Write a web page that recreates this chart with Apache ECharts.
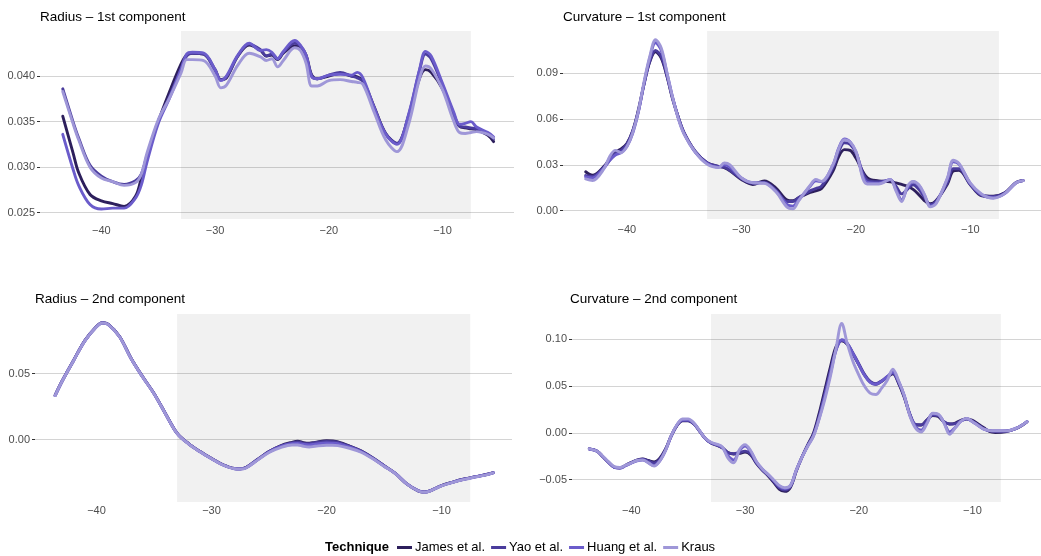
<!DOCTYPE html>
<html>
<head>
<meta charset="utf-8">
<title>Principal components by technique</title>
<script src="https://cdn.jsdelivr.net/npm/echarts/dist/echarts.min.js"></script>
<style>
  html, body { margin: 0; padding: 0; background: #ffffff; }
  #chart { width: 1041px; height: 556px; }
</style>
</head>
<body>
<div id="chart"></div>
<script>
// ---- techniques ----
const techniques = ['James et al.', 'Yao et al.', 'Huang et al.', 'Kraus'];

// ---- Radius – 1st component ----
const radius1X = [-43.4, -42.5, -42, -41, -40, -39, -38, -37, -36.5, -36, -35, -34, -33, -32.5, -32, -31, -30, -29.5, -29, -28, -27, -26, -25.5, -25, -24.5, -24, -23, -22.5, -22, -21.5, -21, -20, -19, -18, -17.5, -17, -16, -15, -14, -13, -12, -11.5, -11, -10, -9, -8.5, -8, -7.5, -7, -6, -5.5];
const radius1James = [0.0356, 0.0316, 0.0294, 0.0270, 0.0263, 0.0260, 0.0257, 0.0268, 0.0288, 0.0312, 0.0350, 0.0383, 0.0413, 0.0423, 0.0425, 0.0424, 0.0407, 0.0396, 0.0398, 0.0422, 0.0434, 0.0428, 0.0422, 0.0423, 0.0418, 0.0425, 0.0433, 0.0432, 0.0423, 0.0401, 0.0397, 0.0400, 0.0403, 0.0400, 0.0399, 0.0395, 0.0366, 0.0337, 0.0326, 0.0355, 0.0398, 0.0407, 0.0404, 0.0386, 0.0356, 0.0345, 0.0343, 0.0342, 0.0341, 0.0335, 0.0328];
const radius1Yao = [0.0386, 0.0350, 0.0332, 0.0302, 0.0290, 0.0284, 0.0281, 0.0285, 0.0292, 0.0312, 0.0350, 0.0378, 0.0408, 0.0422, 0.0425, 0.0424, 0.0406, 0.0396, 0.0399, 0.0422, 0.0435, 0.0429, 0.0422, 0.0424, 0.0419, 0.0426, 0.0436, 0.0433, 0.0422, 0.0400, 0.0397, 0.0401, 0.0404, 0.0400, 0.0398, 0.0394, 0.0365, 0.0337, 0.0326, 0.0356, 0.0407, 0.0424, 0.0419, 0.0390, 0.0358, 0.0345, 0.0344, 0.0343, 0.0342, 0.0337, 0.0331];
const radius1Huang = [0.0336, 0.0298, 0.0280, 0.0259, 0.0254, 0.0255, 0.0255, 0.0266, 0.0280, 0.0305, 0.0348, 0.0376, 0.0407, 0.0424, 0.0426, 0.0425, 0.0407, 0.0395, 0.0400, 0.0423, 0.0436, 0.0428, 0.0429, 0.0426, 0.0419, 0.0427, 0.0439, 0.0434, 0.0423, 0.0399, 0.0397, 0.0401, 0.0402, 0.0401, 0.0404, 0.0398, 0.0365, 0.0336, 0.0325, 0.0357, 0.0408, 0.0427, 0.0422, 0.0392, 0.0360, 0.0347, 0.0348, 0.0350, 0.0344, 0.0338, 0.0333];
const radius1Kraus = [0.0383, 0.0348, 0.0330, 0.0300, 0.0288, 0.0284, 0.0280, 0.0283, 0.0292, 0.0315, 0.0352, 0.0376, 0.0403, 0.0418, 0.0418, 0.0417, 0.0400, 0.0387, 0.0390, 0.0412, 0.0425, 0.0421, 0.0417, 0.0419, 0.0410, 0.0417, 0.0431, 0.0428, 0.0414, 0.0389, 0.0389, 0.0395, 0.0396, 0.0394, 0.0393, 0.0391, 0.0360, 0.0330, 0.0317, 0.0346, 0.0398, 0.0411, 0.0408, 0.0385, 0.0350, 0.0338, 0.0337, 0.0338, 0.0339, 0.0336, 0.0332];
const radius1YTicks = [0.025, 0.030, 0.035, 0.040];

// ---- Curvature – 1st component ----
const curv1X = [-43.6, -43, -42, -41.5, -41, -40.5, -40, -39.5, -39, -38.5, -38, -37.5, -37, -36.5, -36, -35.5, -35, -34, -33, -32, -31.5, -31, -30, -29, -28, -27, -26, -25.5, -25, -24, -23.5, -23, -22, -21.5, -21, -20.5, -20, -19, -18, -17, -16.5, -16, -15.5, -15, -14.5, -14, -13.5, -13, -12, -11.5, -11, -10, -9, -8, -7, -6, -5.4];
const curv1James = [0.0255, 0.0232, 0.0290, 0.0340, 0.0385, 0.0405, 0.0440, 0.0520, 0.0660, 0.0830, 0.0975, 0.1040, 0.1000, 0.0880, 0.0730, 0.0610, 0.0510, 0.0385, 0.0315, 0.0290, 0.0282, 0.0262, 0.0205, 0.0172, 0.0195, 0.0150, 0.0070, 0.0065, 0.0085, 0.0120, 0.0130, 0.0145, 0.0260, 0.0355, 0.0400, 0.0395, 0.0345, 0.0215, 0.0195, 0.0190, 0.0182, 0.0172, 0.0160, 0.0140, 0.0105, 0.0065, 0.0045, 0.0065, 0.0175, 0.0260, 0.0265, 0.0170, 0.0098, 0.0095, 0.0118, 0.0185, 0.0198];
const curv1Yao = [0.0230, 0.0225, 0.0285, 0.0332, 0.0375, 0.0395, 0.0435, 0.0520, 0.0650, 0.0830, 0.0980, 0.1050, 0.1010, 0.0885, 0.0735, 0.0610, 0.0510, 0.0385, 0.0315, 0.0290, 0.0285, 0.0265, 0.0210, 0.0180, 0.0185, 0.0135, 0.0060, 0.0060, 0.0085, 0.0130, 0.0145, 0.0160, 0.0280, 0.0385, 0.0445, 0.0435, 0.0380, 0.0200, 0.0190, 0.0200, 0.0160, 0.0110, 0.0140, 0.0170, 0.0140, 0.0085, 0.0040, 0.0060, 0.0185, 0.0275, 0.0275, 0.0172, 0.0100, 0.0092, 0.0115, 0.0185, 0.0198];
const curv1Huang = [0.0222, 0.0215, 0.0280, 0.0330, 0.0365, 0.0380, 0.0420, 0.0505, 0.0645, 0.0835, 0.1000, 0.1100, 0.1050, 0.0900, 0.0740, 0.0605, 0.0505, 0.0380, 0.0310, 0.0285, 0.0300, 0.0285, 0.0215, 0.0183, 0.0182, 0.0130, 0.0040, 0.0030, 0.0070, 0.0160, 0.0195, 0.0190, 0.0300, 0.0410, 0.0470, 0.0450, 0.0385, 0.0185, 0.0180, 0.0205, 0.0140, 0.0070, 0.0150, 0.0190, 0.0165, 0.0100, 0.0030, 0.0050, 0.0210, 0.0320, 0.0305, 0.0178, 0.0105, 0.0085, 0.0112, 0.0183, 0.0197];
const curv1Kraus = [0.0208, 0.0198, 0.0275, 0.0355, 0.0395, 0.0380, 0.0420, 0.0510, 0.0650, 0.0845, 0.1010, 0.1120, 0.1065, 0.0905, 0.0740, 0.0600, 0.0500, 0.0380, 0.0305, 0.0282, 0.0312, 0.0300, 0.0215, 0.0183, 0.0180, 0.0125, 0.0022, 0.0012, 0.0065, 0.0165, 0.0205, 0.0192, 0.0300, 0.0405, 0.0465, 0.0450, 0.0390, 0.0175, 0.0175, 0.0205, 0.0130, 0.0060, 0.0160, 0.0192, 0.0170, 0.0105, 0.0025, 0.0045, 0.0215, 0.0330, 0.0310, 0.0180, 0.0108, 0.0082, 0.0112, 0.0183, 0.0197];
const curv1YTicks = [0.00, 0.03, 0.06, 0.09];

// ---- Radius – 2nd component ----
const radius2X = [-43.6, -43, -42, -41, -40, -39.5, -39, -38, -37, -36, -35, -34, -33, -32, -31, -30, -29, -28, -27.5, -27, -26, -25, -24, -23, -22.5, -22, -21.5, -21, -20, -19.5, -19, -18, -17, -16, -15, -14, -13, -12, -11.5, -11, -10, -9, -8, -7, -6, -5.5];
const radius2James = [0.0336, 0.0443, 0.0600, 0.0752, 0.0857, 0.0886, 0.0875, 0.0782, 0.0617, 0.0478, 0.0350, 0.0197, 0.0050, -0.0030, -0.0090, -0.0142, -0.0190, -0.0218, -0.0220, -0.0211, -0.0150, -0.0090, -0.0046, -0.0020, -0.0012, -0.0022, -0.0026, -0.0020, -0.0008, -0.0010, -0.0017, -0.0048, -0.0085, -0.0137, -0.0197, -0.0257, -0.0337, -0.0390, -0.0397, -0.0388, -0.0348, -0.0321, -0.0298, -0.0280, -0.0262, -0.0250];
const radius2Yao = [0.0336, 0.0443, 0.0600, 0.0752, 0.0857, 0.0886, 0.0875, 0.0782, 0.0617, 0.0478, 0.0350, 0.0197, 0.0050, -0.0030, -0.0090, -0.0142, -0.0190, -0.0218, -0.0220, -0.0211, -0.0150, -0.0090, -0.0048, -0.0024, -0.0018, -0.0028, -0.0030, -0.0023, -0.0013, -0.0015, -0.0020, -0.0050, -0.0086, -0.0137, -0.0197, -0.0255, -0.0335, -0.0387, -0.0396, -0.0387, -0.0348, -0.0321, -0.0298, -0.0280, -0.0262, -0.0250];
const radius2Huang = [0.0334, 0.0441, 0.0598, 0.0750, 0.0855, 0.0884, 0.0873, 0.0780, 0.0615, 0.0476, 0.0348, 0.0195, 0.0048, -0.0032, -0.0092, -0.0144, -0.0192, -0.0220, -0.0222, -0.0213, -0.0153, -0.0093, -0.0052, -0.0030, -0.0028, -0.0036, -0.0040, -0.0034, -0.0025, -0.0026, -0.0030, -0.0056, -0.0090, -0.0140, -0.0199, -0.0257, -0.0336, -0.0388, -0.0397, -0.0388, -0.0349, -0.0322, -0.0299, -0.0281, -0.0263, -0.0251];
const radius2Kraus = [0.0334, 0.0441, 0.0598, 0.0750, 0.0855, 0.0884, 0.0873, 0.0780, 0.0615, 0.0476, 0.0348, 0.0195, 0.0048, -0.0032, -0.0092, -0.0144, -0.0192, -0.0220, -0.0222, -0.0214, -0.0155, -0.0097, -0.0060, -0.0040, -0.0040, -0.0050, -0.0055, -0.0050, -0.0042, -0.0042, -0.0045, -0.0065, -0.0095, -0.0143, -0.0201, -0.0258, -0.0337, -0.0389, -0.0398, -0.0389, -0.0350, -0.0323, -0.0300, -0.0282, -0.0264, -0.0252];
const radius2YTicks = [0.00, 0.05];

// ---- Curvature – 2nd component ----
const curv2X = [-43.7, -43, -42.5, -42, -41.5, -41, -40.5, -40, -39.5, -39, -38.5, -38, -37.5, -37, -36.5, -36, -35.5, -35, -34.5, -34, -33.5, -33, -32.5, -32, -31.5, -31, -30.5, -30, -29.5, -29, -28.5, -28, -27.5, -27, -26.5, -26, -25.5, -25, -24.5, -24, -23.5, -23, -22.5, -22, -21.5, -21, -20.5, -20, -19.5, -19, -18.5, -18, -17.5, -17, -16.5, -16, -15.5, -15, -14.5, -14, -13.5, -13, -12.5, -12, -11.5, -11, -10.5, -10, -9.5, -9, -8.5, -8, -7, -6, -5.2];
const curv2James = [-0.0170, -0.0195, -0.0255, -0.0315, -0.0365, -0.0372, -0.0345, -0.0315, -0.0290, -0.0278, -0.0295, -0.0310, -0.0270, -0.0175, -0.0035, 0.0075, 0.0128, 0.0128, 0.0095, 0.0020, -0.0060, -0.0108, -0.0130, -0.0160, -0.0210, -0.0225, -0.0218, -0.0205, -0.0235, -0.0325, -0.0395, -0.0455, -0.0525, -0.0600, -0.0625, -0.0580, -0.0410, -0.0260, -0.0130, -0.0010, 0.0200, 0.0450, 0.0700, 0.0920, 0.0985, 0.0945, 0.0840, 0.0730, 0.0620, 0.0545, 0.0520, 0.0550, 0.0595, 0.0630, 0.0530, 0.0380, 0.0195, 0.0085, 0.0085, 0.0140, 0.0185, 0.0175, 0.0115, 0.0095, 0.0105, 0.0135, 0.0150, 0.0135, 0.0095, 0.0055, 0.0015, 0.0005, 0.0015, 0.0055, 0.0118];
const curv2Yao = [-0.0172, -0.0195, -0.0255, -0.0315, -0.0368, -0.0375, -0.0348, -0.0318, -0.0292, -0.0280, -0.0300, -0.0320, -0.0280, -0.0180, -0.0035, 0.0078, 0.0132, 0.0132, 0.0098, 0.0020, -0.0060, -0.0105, -0.0128, -0.0158, -0.0212, -0.0222, -0.0210, -0.0195, -0.0225, -0.0320, -0.0390, -0.0448, -0.0512, -0.0585, -0.0610, -0.0570, -0.0405, -0.0260, -0.0135, -0.0025, 0.0170, 0.0410, 0.0660, 0.0890, 0.0990, 0.0950, 0.0850, 0.0740, 0.0625, 0.0550, 0.0525, 0.0555, 0.0600, 0.0640, 0.0540, 0.0390, 0.0200, 0.0090, 0.0085, 0.0135, 0.0190, 0.0185, 0.0120, 0.0095, 0.0100, 0.0130, 0.0148, 0.0125, 0.0085, 0.0045, 0.0022, 0.0018, 0.0020, 0.0057, 0.0120];
const curv2Huang = [-0.0172, -0.0197, -0.0255, -0.0315, -0.0368, -0.0375, -0.0350, -0.0322, -0.0298, -0.0290, -0.0318, -0.0350, -0.0300, -0.0190, -0.0035, 0.0082, 0.0140, 0.0140, 0.0102, 0.0022, -0.0060, -0.0105, -0.0125, -0.0155, -0.0245, -0.0290, -0.0190, -0.0140, -0.0200, -0.0310, -0.0385, -0.0442, -0.0505, -0.0570, -0.0595, -0.0565, -0.0400, -0.0262, -0.0140, -0.0035, 0.0150, 0.0380, 0.0630, 0.0880, 0.0995, 0.0955, 0.0845, 0.0730, 0.0615, 0.0540, 0.0520, 0.0550, 0.0600, 0.0650, 0.0550, 0.0400, 0.0190, 0.0065, 0.0030, 0.0110, 0.0205, 0.0195, 0.0110, 0.0010, 0.0060, 0.0125, 0.0152, 0.0120, 0.0080, 0.0040, 0.0025, 0.0022, 0.0022, 0.0058, 0.0121];
const curv2Kraus = [-0.0170, -0.0195, -0.0250, -0.0310, -0.0360, -0.0370, -0.0345, -0.0320, -0.0295, -0.0288, -0.0320, -0.0355, -0.0300, -0.0190, -0.0030, 0.0085, 0.0148, 0.0150, 0.0105, 0.0025, -0.0058, -0.0100, -0.0120, -0.0150, -0.0270, -0.0320, -0.0180, -0.0125, -0.0190, -0.0305, -0.0382, -0.0440, -0.0500, -0.0560, -0.0585, -0.0560, -0.0400, -0.0262, -0.0145, -0.0040, 0.0140, 0.0350, 0.0600, 0.0900, 0.1170, 0.0950, 0.0760, 0.0620, 0.0500, 0.0425, 0.0410, 0.0475, 0.0560, 0.0680, 0.0560, 0.0400, 0.0180, 0.0050, 0.0010, 0.0100, 0.0210, 0.0200, 0.0105, -0.0015, 0.0055, 0.0125, 0.0155, 0.0120, 0.0078, 0.0040, 0.0025, 0.0022, 0.0022, 0.0058, 0.0121];
const curv2YTicks = [-0.05, 0.00, 0.05, 0.10];

// ---- shared x ticks and highlighted window ----
const xTicks = [-40, -30, -20, -10];
const windowStart = -33;
const windowEnd = -7.5;

const lineColors = ['#2d1f5c', '#4a3c9c', '#6b5ccb', '#9f97d8'];

const panels = [
  { title: 'Radius – 1st component', xs: radius1X, ys: [radius1James, radius1Yao, radius1Huang, radius1Kraus],
    yTicks: radius1YTicks, digits: 3, grid: { left: 40, top: 31, width: 474, height: 188 },
    xMin: -45.4, xMax: -3.71, yMin: 0.02431, yMax: 0.04494, titleLeft: 40, titleTop: 10, xLabelMargin: 6 },
  { title: 'Curvature – 1st component', xs: curv1X, ys: [curv1James, curv1Yao, curv1Huang, curv1Kraus],
    yTicks: curv1YTicks, digits: 2, grid: { left: 563, top: 31, width: 478, height: 188 },
    xMin: -45.58, xMax: -3.83, yMin: -0.00544, yMax: 0.1177, titleLeft: 563, titleTop: 10, xLabelMargin: 5 },
  { title: 'Radius – 2nd component', xs: radius2X, ys: [radius2James, radius2Yao, radius2Huang, radius2Kraus],
    yTicks: radius2YTicks, digits: 2, grid: { left: 35, top: 314, width: 477, height: 188 },
    xMin: -45.35, xMax: -3.87, yMin: -0.0472, yMax: 0.0952, titleLeft: 35, titleTop: 292, xLabelMargin: 3 },
  { title: 'Curvature – 2nd component', xs: curv2X, ys: [curv2James, curv2Yao, curv2Huang, curv2Kraus],
    yTicks: curv2YTicks, digits: 2, grid: { left: 572, top: 314, width: 469, height: 188 },
    xMin: -45.22, xMax: -3.97, yMin: -0.0738, yMax: 0.127, titleLeft: 570, titleTop: 292, xLabelMargin: 3 }
];

const fontFamily = '"Liberation Sans", Arial, Helvetica, sans-serif';
const minus = v => String(v).replace('-', '\u2212');

const option = {
  animation: false,
  backgroundColor: '#ffffff',
  color: lineColors,
  title: panels.map(p => ({
    text: p.title, left: p.titleLeft, top: p.titleTop, padding: 0,
    textStyle: { fontFamily, fontSize: 13.5, fontWeight: 'normal', color: '#000000' }
  })).concat([{
    text: 'Technique', left: 325, top: 541, padding: 0,
    textStyle: { fontFamily, fontSize: 13, fontWeight: 'bold', color: '#000000' }
  }]),
  legend: {
    data: techniques, left: 397, top: 541, padding: 0,
    icon: 'rect', itemWidth: 15, itemHeight: 3, itemGap: 6,
    textStyle: { fontFamily, fontSize: 13, color: '#000000', padding: [0, 0, 0, -2] }
  },
  grid: panels.map(p => Object.assign({ containLabel: false }, p.grid)),
  xAxis: panels.map((p, i) => ({
    type: 'value', gridIndex: i, min: p.xMin, max: p.xMax,
    axisLine: { show: false },
    axisTick: { show: false, customValues: xTicks },
    splitLine: { show: false },
    axisLabel: { customValues: xTicks, formatter: v => minus(v), color: '#4d4d4d',
      fontFamily, fontSize: 11, margin: p.xLabelMargin }
  })),
  yAxis: panels.map((p, i) => ({
    type: 'value', gridIndex: i, min: p.yMin, max: p.yMax,
    axisLine: { show: false },
    axisTick: { show: true, customValues: p.yTicks, length: 3, lineStyle: { color: '#333333', width: 1 } },
    splitLine: { show: true, lineStyle: { color: '#d4d4d4', width: 1.1 } },
    axisLabel: { customValues: p.yTicks, formatter: v => minus(v.toFixed(p.digits)), color: '#4d4d4d',
      fontFamily, fontSize: 11, margin: 5 }
  })),
  series: []
};

panels.forEach((p, i) => {
  techniques.forEach((name, k) => {
    const s = {
      type: 'line', name, xAxisIndex: i, yAxisIndex: i,
      data: p.xs.map((x, j) => [x, p.ys[k][j]]),
      smooth: 0.35, showSymbol: false, symbol: 'none',
      lineStyle: { color: lineColors[k], width: 2.9, cap: 'round', join: 'round' },
      itemStyle: { color: lineColors[k] },
      z: 2 + k
    };
    if (k === 0) {
      s.markArea = {
        silent: true,
        itemStyle: { color: 'rgba(0,0,0,0.055)' },
        data: [[{ xAxis: windowStart }, { xAxis: windowEnd }]]
      };
    }
    option.series.push(s);
  });
});

const chart = echarts.init(document.getElementById('chart'), null, { renderer: 'canvas' });
chart.setOption(option);
</script>
</body>
</html>
